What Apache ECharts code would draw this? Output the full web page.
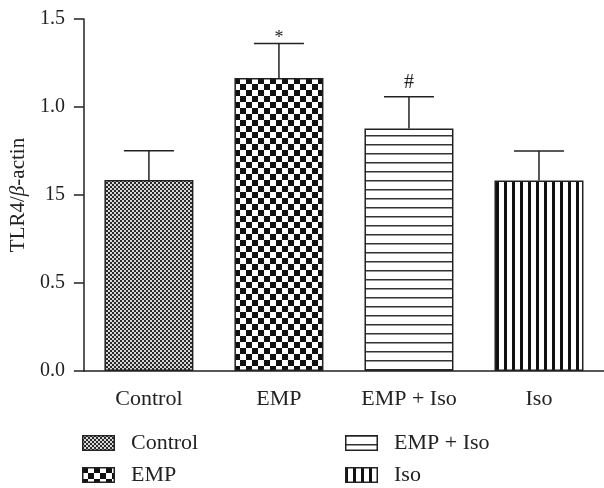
<!DOCTYPE html>
<html><head><meta charset="utf-8">
<script src="https://cdn.jsdelivr.net/npm/echarts@6/dist/echarts.min.js"></script>
<style>html,body{margin:0;padding:0;background:#fff}#c{width:604px;height:488px}</style>
</head><body><div id="c"></div>
<script>
var categories = ['Control', 'EMP', 'EMP + Iso', 'Iso'];
var means = [0.814, 1.249, 1.033, 0.812];
var errors = [0.125, 0.147, 0.136, 0.125];
var significance = ['', '*', '#', ''];
var yTickLabels = ['0.0', '0.5', '15', '1.0', '1.5'];
var yMax = 1.5, yStep = 0.375;

var FONT = 'Liberation Serif';
function mkCanvas(w, h, draw) { var c = document.createElement('canvas'); c.width = w; c.height = h; draw(c.getContext('2d'), w, h); return c; }
var drawers = {
  'Control': function (g, w, h) { g.fillStyle = '#d8d8d8'; g.fillRect(0, 0, w, h); g.fillStyle = '#2a2a2a'; for (var y = 0; y < h; y += 2) for (var x = 0; x < w; x += 2) if (((x + y) / 2) % 2 === 0) g.fillRect(x, y, 2, 2); },
  'EMP': function (g, w, h) { g.fillStyle = '#fff'; g.fillRect(0, 0, w, h); g.fillStyle = '#111'; for (var y = 0; y < h; y += 6) for (var x = 0; x < w; x += 6) if (((x + y) / 6) % 2 === 0) g.fillRect(x, y, 6, 6); },
  'EMP + Iso': function (g, w, h) { g.fillStyle = '#fff'; g.fillRect(0, 0, w, h); g.fillStyle = '#333'; for (var y = 0; y < h; y += 9) g.fillRect(0, y, w, 1.5); },
  'Iso': function (g, w, h) { g.fillStyle = '#fff'; g.fillRect(0, 0, w, h); g.fillStyle = '#111'; for (var x = 0; x < w; x += 8) g.fillRect(x, 0, 3, h); }
};
var tileSize = { 'Control': [4, 4], 'EMP': [12, 12], 'EMP + Iso': [9, 9], 'Iso': [8, 8] };
function patternFor(name) { var s = tileSize[name]; return { image: mkCanvas(s[0], s[1], drawers[name]), repeat: 'repeat' }; }
function iconFor(name) {
  var c = mkCanvas(44, 16, function (g) {
    var t = mkCanvas(33, 16, function (g2) { var s = tileSize[name]; var p = g2.createPattern(mkCanvas(s[0], s[1], drawers[name]), 'repeat'); g2.fillStyle = p; g2.fillRect(0, 0, 33, 16); });
    g.drawImage(t, 0, 0); g.strokeStyle = '#222'; g.lineWidth = 1.5; g.strokeRect(0.75, 0.75, 31.5, 14.5);
  });
  return 'image://' + c.toDataURL();
}

var series = categories.map(function (name, i) {
  return {
    name: name, type: 'bar', barWidth: 89, barGap: '-100%',
    data: categories.map(function (_, j) { return j === i ? means[i] : '-'; }),
    itemStyle: { color: patternFor(name), borderColor: '#222', borderWidth: 1.5 },
    emphasis: { disabled: true }, z: 2
  };
});
series.push({
  type: 'custom', z: 3, silent: true,
  data: categories.map(function (_, i) { return [i, means[i], errors[i]]; }),
  encode: { x: 0, y: 1 },
  renderItem: function (params, api) {
    var i = api.value(0), m = api.value(1), e = api.value(2);
    var b = api.coord([i, m]), t = api.coord([i, m + e]);
    var ch = [
      { type: 'line', shape: { x1: b[0], y1: b[1], x2: t[0], y2: t[1] }, style: { stroke: '#222', lineWidth: 1.5 } },
      { type: 'line', shape: { x1: t[0] - 25, y1: t[1], x2: t[0] + 25, y2: t[1] }, style: { stroke: '#222', lineWidth: 1.5 } }
    ];
    var s = significance[params.dataIndex];
    if (s) ch.push({ type: 'text', style: { text: s, x: t[0], y: t[1] - (s === '*' ? 5 : 14), textAlign: 'center', textVerticalAlign: 'middle', fontFamily: FONT, fontSize: s === '*' ? 18 : 20, fill: '#222' } });
    return { type: 'group', children: ch };
  }
});

var chart = echarts.init(document.getElementById('c'), null, { renderer: 'canvas' });
var legendBase = { orient: 'vertical', padding: 0, itemWidth: 44, itemHeight: 16, itemGap: 10, textStyle: { fontFamily: FONT, fontSize: 22, color: '#222' }, selectedMode: false };
chart.setOption({
  animation: false,
  backgroundColor: '#fff',
  grid: { left: 82, top: 19, bottom: 117, right: -9 },
  legend: [
    Object.assign({ left: 82, top: 432, data: [{ name: 'Control', icon: iconFor('Control') }, { name: 'EMP', icon: iconFor('EMP') }] }, legendBase),
    Object.assign({ left: 345, top: 432, data: [{ name: 'EMP + Iso', icon: iconFor('EMP + Iso') }, { name: 'Iso', icon: iconFor('Iso') }] }, legendBase)
  ],
  xAxis: {
    type: 'category', data: categories,
    axisLine: { lineStyle: { color: '#222', width: 1.5 } },
    axisTick: { alignWithLabel: true, length: 10, lineStyle: { color: '#222', width: 1.5 } },
    axisLabel: { fontFamily: FONT, fontSize: 22, color: '#222', margin: 17 }
  },
  yAxis: {
    type: 'value', min: 0, max: yMax, interval: yStep,
    name: '{a|TLR4/}{b|β}{a|-actin}', nameLocation: 'middle', nameGap: 52, nameRotate: 90,
    nameTextStyle: { rich: { a: { fontFamily: FONT, fontSize: 21, color: '#222' }, b: { fontFamily: FONT, fontSize: 21, fontStyle: 'italic', color: '#222' } } },
    splitLine: { show: false },
    axisLine: { show: true, lineStyle: { color: '#222', width: 1.5 } },
    axisTick: { show: true, length: 10, lineStyle: { color: '#222', width: 1.5 } },
    axisLabel: { fontFamily: FONT, fontSize: 20, color: '#222', margin: 19, formatter: function (v) { return yTickLabels[Math.round(v / yStep)]; } }
  },
  series: series
});
</script></body></html>
